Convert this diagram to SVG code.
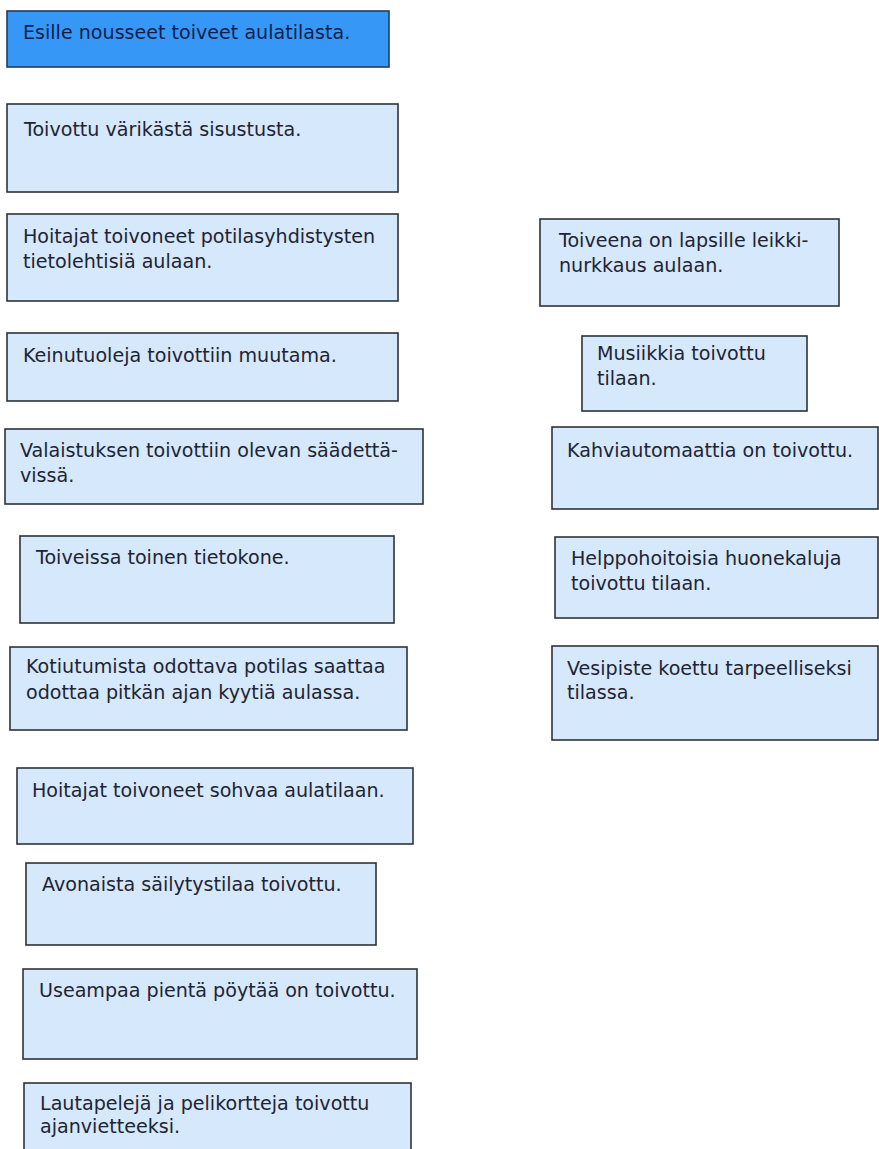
<svg xmlns="http://www.w3.org/2000/svg" width="879" height="1149" viewBox="0 0 879 1149">
<style>
.box{fill:#d5e8fc;stroke:#2e3238;stroke-width:1.6}
.head{fill:#3797f7;stroke:#263a5c;stroke-width:1.6}
text{font-family:"DejaVu Sans","Liberation Sans",sans-serif;font-size:19.1px;fill:#1f2433}
.ht{fill:#0f1f4a}
</style>
<rect width="879" height="1149" fill="#ffffff"/>
<g id="connectors"></g>
<g id="n0"><rect class="head" x="7" y="11" width="382" height="56"/><text class="ht" x="23" y="39">Esille nousseet toiveet aulatilasta.</text></g>
<g id="n1"><rect class="box" x="7" y="104" width="391" height="88"/><text x="24" y="136">Toivottu värikästä sisustusta.</text></g>
<g id="n2"><rect class="box" x="7" y="214" width="391" height="87"/><text x="23" y="243">Hoitajat toivoneet potilasyhdistysten</text><text x="23" y="268">tietolehtisiä aulaan.</text></g>
<g id="n3"><rect class="box" x="7" y="333" width="391" height="68"/><text x="23" y="362">Keinutuoleja toivottiin muutama.</text></g>
<g id="n4"><rect class="box" x="5" y="429" width="418" height="75"/><text x="20" y="457">Valaistuksen toivottiin olevan säädettä-</text><text x="20" y="482">vissä.</text></g>
<g id="n5"><rect class="box" x="20" y="536" width="374" height="87"/><text x="36" y="564">Toiveissa toinen tietokone.</text></g>
<g id="n6"><rect class="box" x="10" y="647" width="397" height="83"/><text x="26" y="673">Kotiutumista odottava potilas saattaa</text><text x="26" y="699">odottaa pitkän ajan kyytiä aulassa.</text></g>
<g id="n7"><rect class="box" x="17" y="768" width="396" height="76"/><text x="32" y="797">Hoitajat toivoneet sohvaa aulatilaan.</text></g>
<g id="n8"><rect class="box" x="26" y="863" width="350" height="82"/><text x="42" y="891">Avonaista säilytystilaa toivottu.</text></g>
<g id="n9"><rect class="box" x="23" y="969" width="394" height="90"/><text x="39" y="997">Useampaa pientä pöytää on toivottu.</text></g>
<g id="n10"><rect class="box" x="24" y="1083" width="387" height="70"/><text x="40" y="1110">Lautapelejä ja pelikortteja toivottu</text><text x="40" y="1133">ajanvietteeksi.</text></g>
<g id="n11"><rect class="box" x="540" y="219" width="299" height="87"/><text x="559" y="247">Toiveena on lapsille leikki-</text><text x="559" y="272">nurkkaus aulaan.</text></g>
<g id="n12"><rect class="box" x="582" y="336" width="225" height="75"/><text x="597" y="360">Musiikkia toivottu</text><text x="597" y="385">tilaan.</text></g>
<g id="n13"><rect class="box" x="552" y="427" width="326" height="82"/><text x="567" y="457">Kahviautomaattia on toivottu.</text></g>
<g id="n14"><rect class="box" x="555" y="537" width="323" height="81"/><text x="571" y="565">Helppohoitoisia huonekaluja</text><text x="571" y="590">toivottu tilaan.</text></g>
<g id="n15"><rect class="box" x="552" y="646" width="326" height="94"/><text x="567" y="675">Vesipiste koettu tarpeelliseksi</text><text x="567" y="699">tilassa.</text></g>
</svg>
